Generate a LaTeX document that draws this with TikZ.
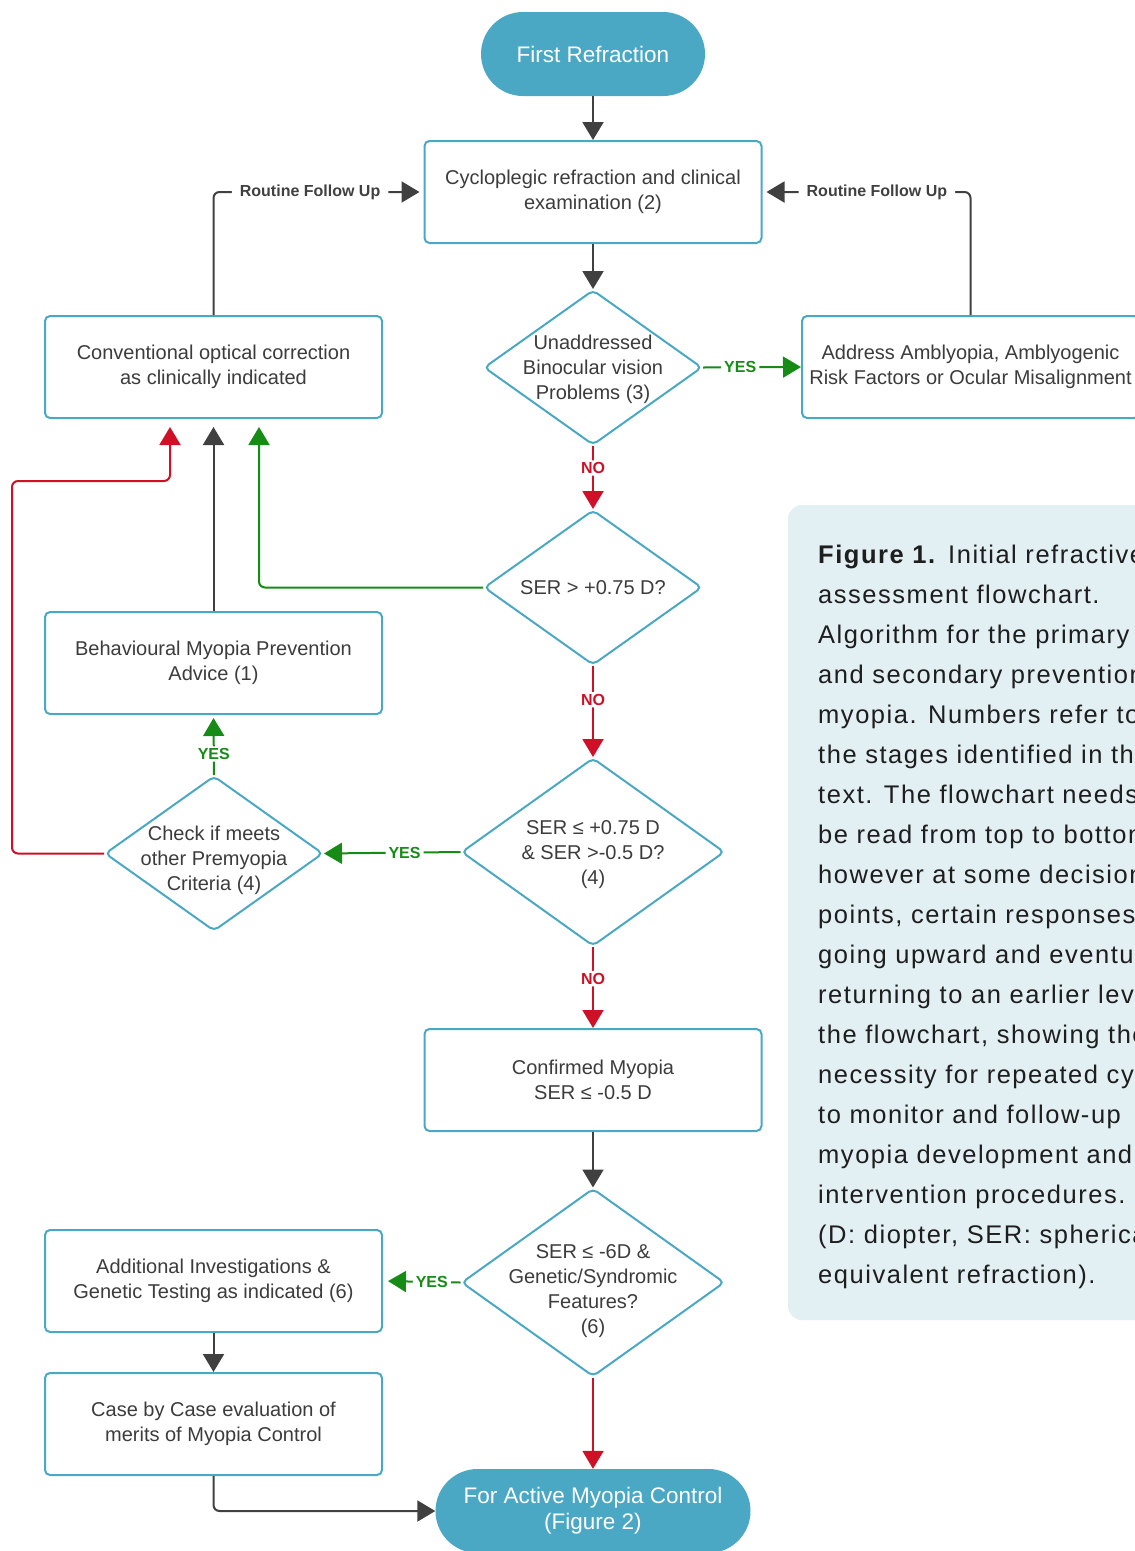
\documentclass[tikz,border=0pt]{standalone}
\usepackage{fontspec}
\setmainfont{Liberation Sans}
\newfontfamily\capfont[LetterSpace=6]{Liberation Sans}
\usetikzlibrary{arrows.meta,shapes.geometric}
\definecolor{flowteal}{RGB}{74,168,196}
\definecolor{capbg}{RGB}{226,239,243}
\definecolor{grn}{RGB}{22,140,22}
\definecolor{rd}{RGB}{206,17,38}
\definecolor{dkc}{RGB}{64,64,64}
\definecolor{txtgray}{RGB}{60,60,60}
\definecolor{captext}{RGB}{30,30,30}
\newcommand\myNodeFont{\fontsize{20}{25}\selectfont}
\newcommand\myTermFont{\fontsize{22.5}{26}\selectfont}
\newcommand\myLblFont{\bfseries\fontsize{16}{18}\selectfont}
\newcommand\myCapFont{\capfont\fontsize{25.5}{40}\selectfont}
\begin{document}
\begin{tikzpicture}[x=1pt,y=-1pt,
  box/.style={rectangle, draw=flowteal, line width=2pt, rounded corners=5pt, fill=white,
    minimum width=337pt, minimum height=102pt, inner sep=0pt, align=center,
    text=txtgray, font=\myNodeFont},
  dia/.style={diamond, draw=flowteal, line width=2pt, rounded corners=5pt, fill=white,
    minimum width=218pt, minimum height=155pt, inner sep=0pt},
  bigdia/.style={dia, minimum width=263pt, minimum height=188pt},
  dtext/.style={align=center, text=txtgray, font=\myNodeFont, inner sep=0pt},
  term/.style={rectangle, fill=flowteal, rounded corners=42pt, minimum height=84pt,
    text=white, font=\myTermFont, align=center, inner sep=0pt},
  conn/.style={line width=2pt, -{Triangle[width=21pt,length=18pt]}, rounded corners=6pt},
  dk/.style={conn, draw=dkc},
  gr/.style={conn, draw=grn},
  rdl/.style={conn, draw=rd},
  lbl/.style={fill=white, font=\myLblFont, inner xsep=3pt, inner ysep=2pt},
  rlbl/.style={fill=white, font=\myLblFont, text=dkc, inner xsep=8pt, inner ysep=2pt},
  captxt/.style={anchor=base west, inner sep=0pt, text=captext, font=\myCapFont}
]
\useasboundingbox (0,0) rectangle (1135,1551);
\clip (0,0) rectangle (1135,1551);

% caption panel
\fill[capbg, rounded corners=14pt] (788,505) rectangle (1170,1320);
\node[captxt] (cap1) at (818,563) {\textbf{Figure 1.} Initial refractive};
\foreach \capline [count=\i from 2] in {
  {assessment flowchart.},
  {Algorithm for the primary},
  {and secondary prevention},
  {myopia. Numbers refer to},
  {the stages identified in the},
  {text. The flowchart needs},
  {be read from top to bottom},
  {however at some decision},
  {points, certain responses},
  {going upward and eventually},
  {returning to an earlier level},
  {the flowchart, showing the},
  {necessity for repeated cycles},
  {to monitor and follow-up},
  {myopia development and},
  {intervention procedures.},
  {(D: diopter, SER: spherical},
  {equivalent refraction).}}
  \node[captxt] (cap\i) at (818,{563+40*(\i-1)}) {\capline};

% terminals
\node[term, minimum width=224pt] (fr) at (593,54) {First Refraction};
\node[term, minimum width=315pt] (act) at (593,1511) {For Active Myopia Control\\(Figure 2)};

% boxes
\node[box] (cyc) at (593,192) {Cycloplegic refraction and clinical\\examination (2)};
\node[box] (conv) at (213.5,367) {Conventional optical correction\\as clinically indicated};
\node[box] (addr) at (970.5,367) {Address Amblyopia, Amblyogenic\\Risk Factors or Ocular Misalignment};
\node[box] (beh) at (213.5,663) {Behavioural Myopia Prevention\\Advice (1)};
\node[box] (conf) at (593,1080) {Confirmed Myopia\\SER ≤ -0.5 D};
\node[box] (addi) at (213.5,1281) {Additional Investigations \&\\Genetic Testing as indicated (6)};
\node[box] (case) at (213.5,1424) {Case by Case evaluation of\\merits of Myopia Control};

% decisions
\node[dia] (d1) at (593,367.5) {};
\node[dtext] (d1t) at (593,369.5) {Unaddressed\\Binocular vision\\Problems (3)};
\node[dia] (d2) at (593,587.5) {};
\node[dtext] (d2t) at (593,588) {SER > +0.75 D?};
\node[bigdia] (d3) at (593,852) {};
\node[dtext] (d3t) at (593,855) {SER ≤ +0.75 D\\\& SER >-0.5 D?\\(4)};
\node[dia] (d4) at (214,853.5) {};
\node[dtext] (d4t) at (214,860.5) {Check if meets\\other Premyopia\\Criteria (4)};
\node[bigdia] (d5) at (593,1282.5) {};
\node[dtext] (d5t) at (593,1291.5) {SER ≤ -6D \&\\Genetic/Syndromic\\Features?\\(6)};

% connectors
\draw[dk] (fr.south) -- (cyc.north);
\draw[dk] (cyc.south) -- (d1.north);
\draw[gr] (d1.east) -- node[lbl, text=grn, pos=0.38] {YES} (addr.west);
\draw[rdl] (d1.south) -- node[lbl, text=rd, pos=0.35] {NO} (d2.north);
\draw[gr, shorten >=8pt] (d2.west) -| ([xshift=45.5pt]conv.south);
\draw[rdl] (d2.south) -- node[lbl, text=rd, pos=0.37] {NO} (d3.north);
\draw[gr] (d3.west) -- node[lbl, text=grn, pos=0.41] {YES} (d4.east);
\draw[gr, shorten >=3pt] (d4.north) -- node[lbl, text=grn, pos=0.35] {YES} (beh.south);
\draw[dk, shorten >=8pt] (beh.north) -- (conv.south);
\coordinate (redturn) at (12,481);
\draw[rdl, shorten >=8pt] (d4.west) -| (redturn) -| ([xshift=-43.5pt]conv.south);
\draw[rdl] (d3.south) -- node[lbl, text=rd, pos=0.39] {NO} (conf.north);
\draw[dk] (conf.south) -- (d5.north);
\draw[gr, shorten >=5pt] (d5.west) -- node[lbl, text=grn, pos=0.37] {YES} (addi.east);
\draw[rdl] (d5.south) -- (act.north);
\draw[dk] (addi.south) -- (case.north);
\draw[dk] (case.south) |- (act.west);
\draw[dk, shorten >=4pt] (conv.north) |- node[rlbl, pos=0.73] {Routine Follow Up} (cyc.west);
\draw[dk, shorten >=4pt] (addr.north) |- node[rlbl, pos=0.725] {Routine Follow Up} (cyc.east);
\end{tikzpicture}
\end{document}
